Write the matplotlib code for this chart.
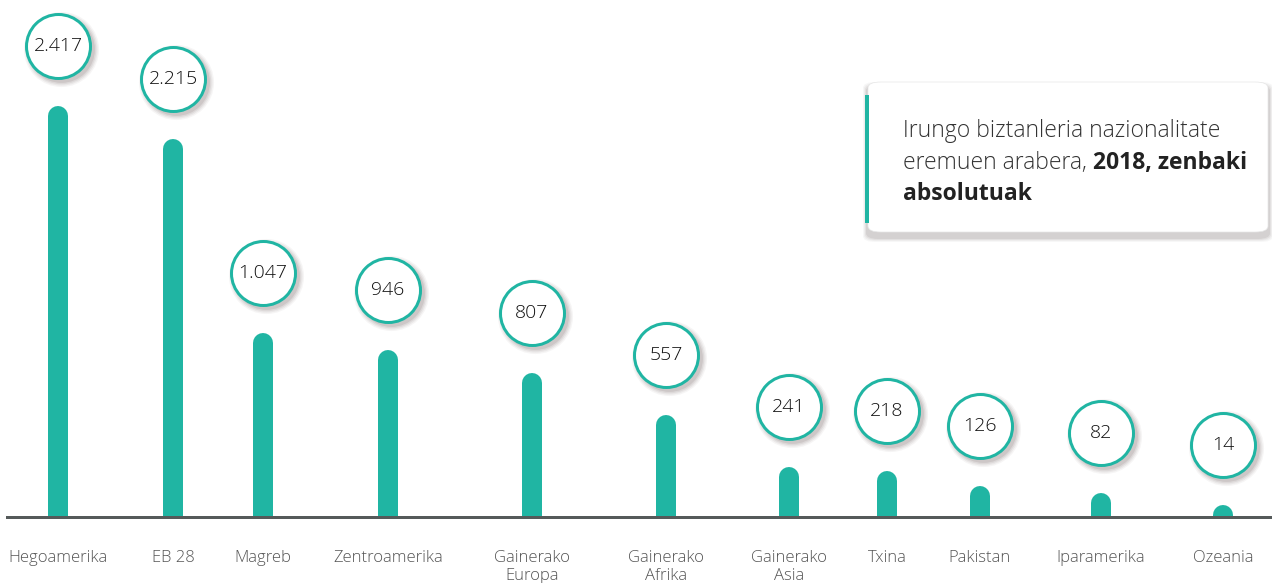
import numpy as np
import matplotlib
matplotlib.use("Agg")
import matplotlib.pyplot as plt
import matplotlib.transforms as mtransforms
from matplotlib.patches import FancyBboxPatch
from matplotlib.text import Annotation

categories = ["Hegoamerika", "EB 28", "Magreb", "Zentroamerika", "Gainerako\nEuropa",
              "Gainerako\nAfrika", "Gainerako\nAsia", "Txina", "Pakistan", "Iparamerika", "Ozeania"]
values = [2417, 2215, 1047, 946, 807, 557, 241, 218, 126, 82, 14]
value_labels = ["2.417", "2.215", "1.047", "946", "807", "557", "241", "218", "126", "82", "14"]

# layout (pixel centres of each bar)
xpos = [58, 173, 263, 388, 532, 666, 789, 887, 980, 1101, 1223]

TEAL = "#20b5a3"
W, H, DPI = 1272, 583, 100
BASE = 517          # baseline, px from top
PX_PER_UNIT = 0.166

plt.rcParams["font.family"] = ["Open Sans", "DejaVu Sans"]

fig = plt.figure(figsize=(W / DPI, H / DPI), dpi=DPI)
ax = fig.add_axes([0, (H - BASE) / H, 1, BASE / H])
ax.set_xlim(0, W)
ax.set_ylim(0, BASE / PX_PER_UNIT)
for s in ax.spines.values():
    s.set_visible(False)
ax.set_yticks([])

# bars with round tops
bar_lw = 20 * 72 / DPI
for x, v in zip(xpos, values):
    ax.plot([x, x], [0, v], color=TEAL, lw=bar_lw, solid_capstyle="round", zorder=2)

ax.axhline(0, xmin=7 / W, xmax=1, color="#555a5a", lw=3 * 72 / DPI, zorder=3, clip_on=False)

ax.set_xticks(xpos, categories)
ax.tick_params(axis="x", length=0, pad=24, labelsize=12, labelcolor="#555555")
for lbl in ax.get_xticklabels():
    lbl.set_fontweight("light")
    lbl.set_linespacing(1.15)

# value bubbles
offset = 70
circ_d = 64 * 72 / DPI
for x, v, t in zip(xpos, values, value_labels):
    for i, a in enumerate([0.05, 0.07, 0.09, 0.12]):
        tr_s = mtransforms.offset_copy(ax.transData, fig=fig, x=3, y=offset - 3, units="dots")
        ax.scatter([x], [v], s=(circ_d + 2 * (4 - i)) ** 2, color="#5a4848", alpha=a,
                   lw=0, transform=tr_s, zorder=4, clip_on=False)
    tr = mtransforms.offset_copy(ax.transData, fig=fig, x=0, y=offset, units="dots")
    ax.scatter([x], [v], s=circ_d ** 2, facecolor="white", edgecolor=TEAL,
               lw=3 * 72 / DPI, transform=tr, zorder=5, clip_on=False)
    ax.text(x, v, t, transform=tr, ha="center", va="center", fontsize=14,
            fontweight="light", color="#111111", zorder=6)

# title box
bx0, by0, bw, bh = 868, 82, 400, 150
for i, a in enumerate([0.04, 0.05, 0.07, 0.09]):
    g = 5 - i
    sh = FancyBboxPatch(((bx0 - g) / W, 1 - (by0 + bh + 5 + g) / H), (bw + 2 * g) / W,
                        (bh + 2 * g) / H, boxstyle="round,pad=0,rounding_size=0.01",
                        transform=fig.transFigure, facecolor="#4a3a3a", alpha=a, lw=0, zorder=7)
    fig.patches.append(sh)
box = FancyBboxPatch((bx0 / W, 1 - (by0 + bh) / H), bw / W, bh / H,
                     boxstyle="round,pad=0,rounding_size=0.01", transform=fig.transFigure,
                     facecolor="white", edgecolor="#e6e6e6", lw=0.5, zorder=8)
fig.patches.append(box)
fig.patches.append(plt.Rectangle((865 / W, 1 - 223 / H), 4 / W, 128 / H,
                                 transform=fig.transFigure, facecolor=TEAL, lw=0, zorder=9))

tx = 903 / W
fs = 16.5
fig.text(tx, 1 - 137 / H, "Irungo biztanleria nazionalitate", fontsize=fs,
         fontweight="light", color="#333333", va="baseline", zorder=10)
t2 = fig.text(tx, 1 - 169 / H, "eremuen arabera, ", fontsize=fs,
              fontweight="light", color="#333333", va="baseline", zorder=10)
ann = Annotation("2018, zenbaki", xy=(1, 0), xycoords=t2, fontsize=fs, fontweight="bold",
                 color="#222222", va="bottom", annotation_clip=False, zorder=10)
fig.add_artist(ann)
fig.text(tx, 1 - 200 / H, "absolutuak", fontsize=fs, fontweight="bold",
         color="#222222", va="baseline", zorder=10)

fig.savefig("out.png", dpi=DPI)
